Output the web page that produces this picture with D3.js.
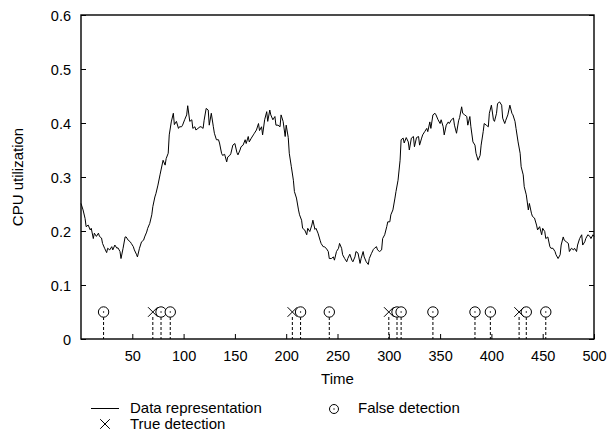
<!DOCTYPE html>
<html>
<head>
<meta charset="utf-8">
<script src="https://cdn.jsdelivr.net/npm/d3@7"></script>
<style>
  body { margin: 0; background: #fff; }
  text { font-family: "Liberation Sans", Arial, sans-serif; fill: #000; }
</style>
</head>
<body>
<div id="chart"></div>
<script>
// CPU utilization series
const time = [0, 2, 4, 5, 7, 9, 10, 12, 13, 15, 17, 18, 20, 21, 23, 25, 26, 28, 30, 31, 33, 35, 36, 38, 39, 41, 43, 44, 46, 48, 49, 51, 52, 54, 55, 57, 59, 61, 62, 64, 65, 67, 69, 70, 72, 73, 75, 77, 78, 80, 82, 83, 85, 86, 88, 90, 91, 93, 95, 96, 98, 99, 101, 103, 104, 106, 108, 109, 111, 112, 114, 116, 117, 119, 120, 122, 124, 125, 127, 129, 130, 132, 134, 135, 137, 138, 140, 142, 143, 145, 146, 148, 150, 152, 153, 155, 156, 158, 160, 161, 163, 164, 166, 168, 169, 171, 173, 174, 176, 177, 179, 181, 182, 184, 185, 187, 189, 190, 192, 194, 195, 197, 199, 200, 202, 203, 205, 207, 208, 210, 212, 213, 215, 216, 218, 220, 221, 223, 225, 226, 228, 229, 231, 233, 234, 236, 237, 239, 241, 242, 244, 246, 247, 249, 251, 252, 254, 255, 257, 259, 260, 262, 264, 265, 267, 268, 270, 272, 273, 275, 276, 278, 280, 281, 283, 285, 286, 288, 289, 291, 293, 294, 296, 298, 299, 301, 302, 304, 306, 307, 309, 311, 312, 314, 315, 317, 319, 320, 322, 324, 325, 327, 329, 330, 332, 333, 335, 337, 338, 340, 341, 343, 345, 346, 348, 350, 351, 353, 354, 356, 358, 359, 361, 363, 364, 366, 368, 369, 371, 372, 374, 376, 377, 379, 380, 382, 384, 385, 387, 389, 390, 392, 393, 395, 397, 398, 400, 402, 403, 405, 406, 408, 410, 411, 413, 414, 416, 418, 420, 421, 423, 424, 426, 428, 429, 431, 432, 434, 436, 437, 439, 440, 442, 444, 445, 447, 449, 450, 452, 453, 455, 457, 458, 460, 462, 463, 465, 467, 468, 470, 471, 473, 475, 476, 478, 480, 481, 483, 484, 486, 488, 489, 491, 492, 494, 496, 497, 499, 500];
const cpu = [0.251, 0.239, 0.223, 0.208, 0.211, 0.202, 0.205, 0.186, 0.196, 0.190, 0.196, 0.190, 0.187, 0.177, 0.168, 0.160, 0.168, 0.165, 0.171, 0.165, 0.174, 0.168, 0.169, 0.162, 0.149, 0.168, 0.189, 0.189, 0.183, 0.180, 0.177, 0.171, 0.165, 0.157, 0.152, 0.168, 0.180, 0.183, 0.189, 0.198, 0.205, 0.214, 0.230, 0.245, 0.263, 0.269, 0.285, 0.304, 0.313, 0.331, 0.322, 0.334, 0.344, 0.378, 0.402, 0.418, 0.397, 0.403, 0.390, 0.393, 0.393, 0.396, 0.406, 0.415, 0.432, 0.403, 0.406, 0.390, 0.393, 0.387, 0.390, 0.393, 0.393, 0.390, 0.405, 0.427, 0.424, 0.396, 0.418, 0.393, 0.381, 0.369, 0.369, 0.363, 0.344, 0.340, 0.342, 0.328, 0.337, 0.340, 0.343, 0.359, 0.362, 0.345, 0.341, 0.350, 0.356, 0.359, 0.369, 0.362, 0.375, 0.365, 0.372, 0.378, 0.381, 0.387, 0.399, 0.386, 0.393, 0.378, 0.406, 0.421, 0.403, 0.424, 0.415, 0.406, 0.412, 0.396, 0.396, 0.393, 0.415, 0.403, 0.375, 0.396, 0.373, 0.344, 0.319, 0.294, 0.273, 0.261, 0.239, 0.230, 0.220, 0.205, 0.202, 0.193, 0.205, 0.199, 0.211, 0.220, 0.203, 0.205, 0.196, 0.183, 0.177, 0.171, 0.171, 0.168, 0.162, 0.149, 0.149, 0.152, 0.146, 0.162, 0.168, 0.177, 0.168, 0.156, 0.149, 0.143, 0.149, 0.157, 0.146, 0.143, 0.152, 0.162, 0.159, 0.140, 0.149, 0.162, 0.152, 0.143, 0.138, 0.149, 0.158, 0.166, 0.168, 0.171, 0.165, 0.162, 0.165, 0.186, 0.193, 0.208, 0.217, 0.217, 0.230, 0.239, 0.261, 0.273, 0.294, 0.331, 0.369, 0.372, 0.363, 0.373, 0.365, 0.350, 0.372, 0.375, 0.356, 0.373, 0.375, 0.359, 0.372, 0.378, 0.384, 0.390, 0.384, 0.402, 0.390, 0.415, 0.418, 0.415, 0.406, 0.399, 0.406, 0.393, 0.378, 0.396, 0.402, 0.399, 0.406, 0.409, 0.396, 0.381, 0.404, 0.410, 0.430, 0.418, 0.415, 0.412, 0.396, 0.412, 0.393, 0.365, 0.359, 0.344, 0.331, 0.340, 0.359, 0.384, 0.399, 0.396, 0.393, 0.418, 0.433, 0.406, 0.403, 0.418, 0.436, 0.439, 0.433, 0.409, 0.399, 0.405, 0.415, 0.433, 0.418, 0.415, 0.403, 0.390, 0.365, 0.344, 0.319, 0.304, 0.282, 0.267, 0.239, 0.251, 0.233, 0.227, 0.224, 0.211, 0.202, 0.208, 0.193, 0.205, 0.199, 0.186, 0.189, 0.171, 0.168, 0.168, 0.162, 0.156, 0.149, 0.156, 0.174, 0.189, 0.183, 0.180, 0.177, 0.162, 0.168, 0.165, 0.168, 0.162, 0.174, 0.186, 0.193, 0.174, 0.180, 0.186, 0.193, 0.190, 0.186, 0.193, 0.190];

// detections (time) drawn at level 0.05
const trueDetections = [70, 206, 300, 427];
const falseDetections = [22, 78, 87, 214, 242, 308, 312, 343, 384, 399, 434, 453];
const markerLevel = 0.05;

const xTicks = [50, 100, 150, 200, 250, 300, 350, 400, 450, 500];
const yTicks = [0, 0.1, 0.2, 0.3, 0.4, 0.5, 0.6];

const svgWidth = 610;
const svgHeight = 435;
const margin = { top: 15, right: 16, bottom: 96, left: 81 };
const width = svgWidth - margin.left - margin.right;
const height = svgHeight - margin.top - margin.bottom;

const svg = d3.select("#chart").append("svg")
  .attr("width", svgWidth)
  .attr("height", svgHeight);

const g = svg.append("g")
  .attr("transform", `translate(${margin.left}, ${margin.top})`);

const x = d3.scaleLinear().domain([0, 500]).range([0, width]);
const y = d3.scaleLinear().domain([0, 0.6]).range([height, 0]);

// axes, ticks pointing inward
const xAxis = g.append("g")
  .attr("transform", `translate(0, ${height})`)
  .call(d3.axisBottom(x).tickValues(xTicks).tickSize(-5).tickPadding(12).tickFormat(d3.format("d")));
const yAxis = g.append("g")
  .call(d3.axisLeft(y).tickValues(yTicks).tickSize(-5).tickPadding(10).tickFormat(d3.format(".1~f")));
const rAxis = g.append("g")
  .attr("transform", `translate(${width}, 0)`)
  .call(d3.axisRight(y).tickValues(yTicks).tickSize(-5).tickFormat(""));

[xAxis, yAxis, rAxis].forEach(a => {
  a.select(".domain").remove();
  a.selectAll(".tick line").attr("stroke", "#000").attr("stroke-width", 1);
  a.selectAll("text").attr("font-size", "14.5px").attr("font-family", "Liberation Sans, Arial, sans-serif");
});
yAxis.selectAll("text").attr("dy", "0.35em");

// frame
g.append("rect")
  .attr("width", width)
  .attr("height", height)
  .attr("fill", "none")
  .attr("stroke", "#000")
  .attr("stroke-width", 1.4);

// data line
const series = time.map((t, i) => ({ t: t, v: cpu[i] }));
g.append("path")
  .datum(series)
  .attr("fill", "none")
  .attr("stroke", "#000")
  .attr("stroke-width", 1)
  .attr("d", d3.line().x(d => x(d.t)).y(d => y(d.v)));

// dashed drop lines
const allDetections = trueDetections.concat(falseDetections);
g.selectAll(".drop")
  .data(allDetections)
  .enter()
  .append("line")
  .attr("class", "drop")
  .attr("x1", d => x(d))
  .attr("x2", d => x(d))
  .attr("y1", y(markerLevel) + 5)
  .attr("y2", y(0))
  .attr("stroke", "#000")
  .attr("stroke-width", 1)
  .attr("stroke-dasharray", "3,2");

// false detection markers: circle with dot
function circleMarker(sel, r) {
  sel.append("circle").attr("r", r).attr("fill", "#fff").attr("stroke", "#000").attr("stroke-width", 1);
  sel.append("circle").attr("r", 0.7).attr("fill", "#000");
}
function crossMarker(sel, s) {
  sel.append("path")
    .attr("d", `M${-s},${-s}L${s},${s}M${-s},${s}L${s},${-s}`)
    .attr("stroke", "#000")
    .attr("stroke-width", 1)
    .attr("fill", "none");
}

g.selectAll(".fd")
  .data(falseDetections)
  .enter()
  .append("g")
  .attr("class", "fd")
  .attr("transform", d => `translate(${x(d)}, ${y(markerLevel)})`)
  .call(circleMarker, 5.2);

g.selectAll(".td")
  .data(trueDetections)
  .enter()
  .append("g")
  .attr("class", "td")
  .attr("transform", d => `translate(${x(d)}, ${y(markerLevel)})`)
  .call(crossMarker, 4.8);

// axis titles
g.append("text")
  .attr("x", width / 2)
  .attr("y", 384 - margin.top)
  .attr("text-anchor", "middle")
  .attr("font-size", "15px")
  .text("Time");

svg.append("text")
  .attr("transform", `translate(23, ${margin.top + height / 2}) rotate(-90)`)
  .attr("text-anchor", "middle")
  .attr("font-size", "15px")
  .text("CPU utilization");

// legend
const legend = svg.append("g");
legend.append("line")
  .attr("x1", 91).attr("x2", 119)
  .attr("y1", 408.5).attr("y2", 408.5)
  .attr("stroke", "#000").attr("stroke-width", 1);
legend.append("text").attr("x", 130).attr("y", 412.5).attr("font-size", "15px").text("Data representation");
legend.append("g").attr("transform", "translate(105, 424)").call(crossMarker, 4.8);
legend.append("text").attr("x", 130).attr("y", 429).attr("font-size", "15px").text("True detection");
legend.append("g").attr("transform", "translate(334, 409)").call(circleMarker, 4.5);
legend.append("text").attr("x", 358).attr("y", 412.5).attr("font-size", "15px").text("False detection");
</script>
</body>
</html>
